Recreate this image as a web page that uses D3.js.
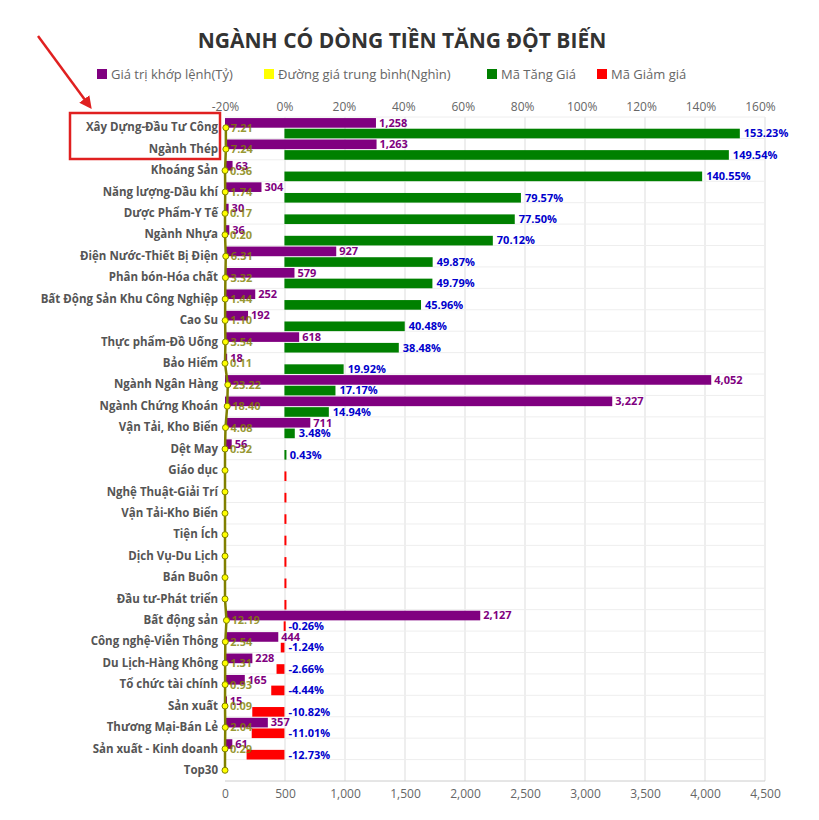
<!DOCTYPE html>
<html><head><meta charset="utf-8">
<script src="https://cdn.jsdelivr.net/npm/d3@7"></script>
<style>body{margin:0;background:#fff;font-family:"Open Sans",Arial,sans-serif}</style>
</head><body><svg width="819" height="820"></svg>
<script>
const categories = ["Xây Dựng-Đầu Tư Công","Ngành Thép","Khoáng Sản","Năng lượng-Dầu khí","Dược Phẩm-Y Tế","Ngành Nhựa","Điện Nước-Thiết Bị Điện","Phân bón-Hóa chất","Bất Động Sản Khu Công Nghiệp","Cao Su","Thực phẩm-Đồ Uống","Bảo Hiểm","Ngành Ngân Hàng","Ngành Chứng Khoán","Vận Tải, Kho Biển","Dệt May","Giáo dục","Nghệ Thuật-Giải Trí","Vận Tải-Kho Biển","Tiện Ích","Dịch Vụ-Du Lịch","Bán Buôn","Đầu tư-Phát triển","Bất động sản","Công nghệ-Viễn Thông","Du Lịch-Hàng Không","Tổ chức tài chính","Sản xuất","Thương Mại-Bán Lẻ","Sản xuất - Kinh doanh","Top30"];
const tradeValue = [1258,1263,63,304,30,36,927,579,252,192,618,18,4052,3227,711,56,0,0,0,0,0,0,0,2127,444,228,165,15,357,61,0];
const avgPrice = [7.21,7.24,0.36,1.74,0.17,0.20,6.31,3.32,1.44,1.10,3.54,0.11,23.22,18.40,4.08,0.32,0,0,0,0,0,0,0,12.19,2.54,1.31,0.93,0.09,2.04,0.29,0];
const pctChange = [153.23,149.54,140.55,79.57,77.50,70.12,49.87,49.79,45.96,40.48,38.48,19.92,17.17,14.94,3.48,0.43,0,0,0,0,0,0,0,-0.26,-1.24,-2.66,-4.44,-10.82,-11.01,-12.73,null];
const bottomTicks = [0,500,1000,1500,2000,2500,3000,3500,4000,4500];
const topTicks = [-20,0,20,40,60,80,100,120,140,160];

const svg = d3.select("svg");
const L = 225, R = 765, T = 117, B = 781;
const x = d3.scaleLinear().domain([0,4500]).range([L,R]);
const xp = d3.scaleLinear().domain([-20,161.7]).range([L,R]);
const y = d3.scaleBand().domain(categories).range([T,B]);
const bw = y.bandwidth();

svg.append("text").attr("x",402).attr("y",48).attr("text-anchor","middle")
  .attr("font-size",21).attr("font-weight","bold").attr("fill","#333").text("NGÀNH CÓ DÒNG TIỀN TĂNG ĐỘT BIẾN");

const legend = [["Giá trị khớp lệnh(Tỷ)","#800080",97],["Đường giá trung bình(Nghìn)","#ffff00",264],["Mã Tăng Giá","#008000",487],["Mã Giảm giá","#ff0000",597]];
legend.forEach(([t,c,lx])=>{
  svg.append("rect").attr("x",lx).attr("y",69).attr("width",10).attr("height",10).attr("fill",c);
  svg.append("text").attr("x",lx+14).attr("y",78.5).attr("font-size",13).attr("fill","#666").text(t);
});

// grid
svg.append("g").selectAll("line").data(bottomTicks.slice(1)).join("line")
  .attr("x1",d=>x(d)).attr("x2",d=>x(d)).attr("y1",T).attr("y2",B).attr("stroke","#ddd");
svg.append("g").selectAll("line").data(categories).join("line")
  .attr("x1",L).attr("x2",R).attr("y1",d=>y(d)).attr("y2",d=>y(d)).attr("stroke","#eee");
svg.append("line").attr("x1",L).attr("x2",R).attr("y1",B).attr("y2",B).attr("stroke","#ccc");

const ax = svg.append("g").attr("transform",`translate(0,${B})`)
  .call(d3.axisBottom(x).tickValues(bottomTicks).tickSize(0).tickPadding(8).tickFormat(d3.format(",")));
ax.select(".domain").remove();
ax.selectAll("text").attr("font-size",12).attr("fill","#666").attr("font-family","Open Sans, Arial");
const at = svg.append("g").attr("transform",`translate(0,${T-6})`)
  .call(d3.axisTop(xp).tickValues(topTicks).tickSize(0).tickPadding(0).tickFormat(d=>d+"%"));
at.select(".domain").remove();
at.selectAll("text").attr("font-size",12).attr("fill","#666").attr("font-family","Open Sans, Arial");

const ay = svg.append("g").attr("transform",`translate(${L-7},0)`)
  .call(d3.axisLeft(y).tickSize(0).tickPadding(0));
ay.select(".domain").remove();
ay.selectAll("text").attr("font-size",11.5).attr("font-weight","bold").attr("fill","#555").attr("font-family","Open Sans, Arial");

const rows = categories.map((c,i)=>({c,v:tradeValue[i],a:avgPrice[i],p:pctChange[i]}));
const rowTop = d=>y(d.c)+bw*0.05, half = bw*0.45;

svg.append("g").selectAll("rect").data(rows.filter(d=>d.v>0)).join("rect")
  .attr("x",L).attr("y",rowTop).attr("width",d=>Math.max(2,x(d.v)-L)).attr("height",half).attr("fill","#800080");
svg.append("g").selectAll("text").data(rows.filter(d=>d.v>0)).join("text")
  .attr("x",d=>x(d.v)+3).attr("y",d=>rowTop(d)+half-1).attr("font-size",11).attr("font-weight","bold")
  .attr("fill","#800080").text(d=>d3.format(",")(d.v));

const pr = rows.filter(d=>d.p!==null);
svg.append("g").selectAll("rect").data(pr).join("rect")
  .attr("x",d=>d.p>=0 ? xp(0) : xp(d.p)).attr("y",d=>rowTop(d)+half+1)
  .attr("width",d=>Math.max(2,Math.abs(xp(d.p)-xp(0)))).attr("height",half)
  .attr("fill",d=>d.p>0 ? "#008000" : "#ff0000");
svg.append("g").selectAll("text").data(pr.filter(d=>d.p!==0)).join("text")
  .attr("x",d=>(d.p>0 ? xp(d.p) : xp(0))+4).attr("y",d=>rowTop(d)+2*half)
  .attr("font-size",11).attr("font-weight","bold").attr("fill","#0000cc")
  .text(d=>d.p.toFixed(2)+"%");

// average price line
const cy = d=>y(d.c)+bw/2;
svg.append("path").datum(rows).attr("fill","none").attr("stroke","#808000").attr("stroke-width",2.5)
  .attr("d",d3.line().x(d=>x(d.a)).y(cy));
svg.append("g").selectAll("circle").data(rows).join("circle")
  .attr("cx",d=>x(d.a)).attr("cy",cy).attr("r",3).attr("fill","#ffff00").attr("stroke","#808000").attr("stroke-width",1);
svg.append("g").selectAll("text").data(rows.filter(d=>d.a>0)).join("text")
  .attr("x",d=>x(d.a)+5).attr("y",d=>cy(d)+4).attr("font-size",11).attr("font-weight","bold")
  .attr("fill","#808000").attr("opacity",0.8).text(d=>d.a.toFixed(2));

// annotation
svg.append("rect").attr("x",70).attr("y",113).attr("width",150).attr("height",46).attr("fill","none").attr("stroke","#e02020").attr("stroke-width",2.5);
svg.append("defs").append("marker").attr("id","ah").attr("viewBox","0 0 10 10").attr("refX",5).attr("refY",5)
  .attr("markerWidth",5).attr("markerHeight",5).attr("orient","auto").append("path").attr("d","M0,0L10,5L0,10z").attr("fill","#e02020");
svg.append("line").attr("x1",38).attr("y1",36).attr("x2",88).attr("y2",104).attr("stroke","#e02020").attr("stroke-width",2.5).attr("marker-end","url(#ah)");
</script></body></html>
